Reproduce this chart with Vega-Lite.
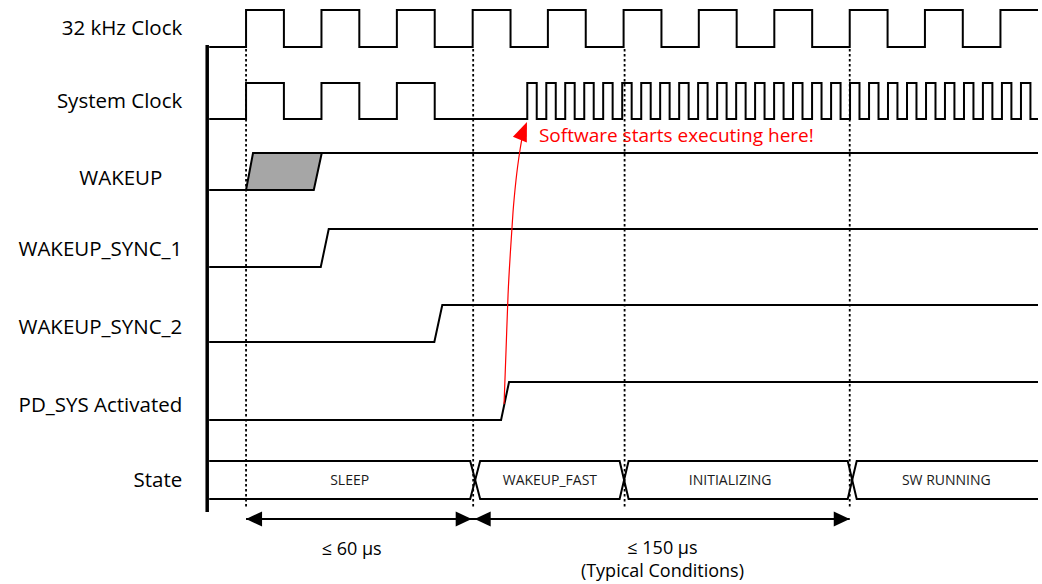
{
  "$schema": "https://vega.github.io/schema/vega-lite/v6.json",
  "width": 1042,
  "height": 584,
  "padding": 0,
  "autosize": {"type": "fit", "contains": "padding"},
  "background": "white",
  "config": {"view": {"stroke": null}},
  "datasets": {
    "w": [
      {"s":"c32","x":210,"y":47},{"s":"c32","x":247,"y":47},{"s":"c32","x":247,"y":10},{"s":"c32","x":285,"y":10},{"s":"c32","x":285,"y":47},
      {"s":"c32","x":322.7,"y":47},{"s":"c32","x":322.7,"y":10},{"s":"c32","x":360.7,"y":10},{"s":"c32","x":360.7,"y":47},
      {"s":"c32","x":398.4,"y":47},{"s":"c32","x":398.4,"y":10},{"s":"c32","x":436.4,"y":10},{"s":"c32","x":436.4,"y":47},
      {"s":"c32","x":474.5,"y":47},{"s":"c32","x":474.5,"y":10},{"s":"c32","x":512.5,"y":10},{"s":"c32","x":512.5,"y":47},
      {"s":"c32","x":550,"y":47},{"s":"c32","x":550,"y":10},{"s":"c32","x":588,"y":10},{"s":"c32","x":588,"y":47},
      {"s":"c32","x":626,"y":47},{"s":"c32","x":626,"y":10},{"s":"c32","x":664,"y":10},{"s":"c32","x":664,"y":47},
      {"s":"c32","x":701.5,"y":47},{"s":"c32","x":701.5,"y":10},{"s":"c32","x":739.5,"y":10},{"s":"c32","x":739.5,"y":47},
      {"s":"c32","x":777.3,"y":47},{"s":"c32","x":777.3,"y":10},{"s":"c32","x":815.3,"y":10},{"s":"c32","x":815.3,"y":47},
      {"s":"c32","x":853,"y":47},{"s":"c32","x":853,"y":10},{"s":"c32","x":891,"y":10},{"s":"c32","x":891,"y":47},
      {"s":"c32","x":928.5,"y":47},{"s":"c32","x":928.5,"y":10},{"s":"c32","x":966.5,"y":10},{"s":"c32","x":966.5,"y":47},
      {"s":"c32","x":1004.3,"y":47},{"s":"c32","x":1004.3,"y":10},{"s":"c32","x":1042,"y":10},

      {"s":"sys","x":210,"y":119},{"s":"sys","x":247,"y":119},{"s":"sys","x":247,"y":83},{"s":"sys","x":285,"y":83},{"s":"sys","x":285,"y":119},
      {"s":"sys","x":322.7,"y":119},{"s":"sys","x":322.7,"y":83},{"s":"sys","x":360.7,"y":83},{"s":"sys","x":360.7,"y":119},
      {"s":"sys","x":398.4,"y":119},{"s":"sys","x":398.4,"y":83},{"s":"sys","x":436.4,"y":83},{"s":"sys","x":436.4,"y":119},
      {"s":"sys","x":529.3,"y":119},{"s":"sys","x":529.3,"y":83},{"s":"sys","x":538.8,"y":83},{"s":"sys","x":538.8,"y":119},
      {"s":"sys","x":548.4,"y":119},{"s":"sys","x":548.4,"y":83},{"s":"sys","x":557.9,"y":83},{"s":"sys","x":557.9,"y":119},
      {"s":"sys","x":567.4,"y":119},{"s":"sys","x":567.4,"y":83},{"s":"sys","x":576.9,"y":83},{"s":"sys","x":576.9,"y":119},
      {"s":"sys","x":586.5,"y":119},{"s":"sys","x":586.5,"y":83},{"s":"sys","x":596.0,"y":83},{"s":"sys","x":596.0,"y":119},
      {"s":"sys","x":605.5,"y":119},{"s":"sys","x":605.5,"y":83},{"s":"sys","x":615.0,"y":83},{"s":"sys","x":615.0,"y":119},
      {"s":"sys","x":624.6,"y":119},{"s":"sys","x":624.6,"y":83},{"s":"sys","x":634.1,"y":83},{"s":"sys","x":634.1,"y":119},
      {"s":"sys","x":643.7,"y":119},{"s":"sys","x":643.7,"y":83},{"s":"sys","x":653.2,"y":83},{"s":"sys","x":653.2,"y":119},
      {"s":"sys","x":662.7,"y":119},{"s":"sys","x":662.7,"y":83},{"s":"sys","x":672.2,"y":83},{"s":"sys","x":672.2,"y":119},
      {"s":"sys","x":681.8,"y":119},{"s":"sys","x":681.8,"y":83},{"s":"sys","x":691.3,"y":83},{"s":"sys","x":691.3,"y":119},
      {"s":"sys","x":700.8,"y":119},{"s":"sys","x":700.8,"y":83},{"s":"sys","x":710.3,"y":83},{"s":"sys","x":710.3,"y":119},
      {"s":"sys","x":719.9,"y":119},{"s":"sys","x":719.9,"y":83},{"s":"sys","x":729.4,"y":83},{"s":"sys","x":729.4,"y":119},
      {"s":"sys","x":739.0,"y":119},{"s":"sys","x":739.0,"y":83},{"s":"sys","x":748.5,"y":83},{"s":"sys","x":748.5,"y":119},
      {"s":"sys","x":758.0,"y":119},{"s":"sys","x":758.0,"y":83},{"s":"sys","x":767.5,"y":83},{"s":"sys","x":767.5,"y":119},
      {"s":"sys","x":777.1,"y":119},{"s":"sys","x":777.1,"y":83},{"s":"sys","x":786.6,"y":83},{"s":"sys","x":786.6,"y":119},
      {"s":"sys","x":796.1,"y":119},{"s":"sys","x":796.1,"y":83},{"s":"sys","x":805.6,"y":83},{"s":"sys","x":805.6,"y":119},
      {"s":"sys","x":815.2,"y":119},{"s":"sys","x":815.2,"y":83},{"s":"sys","x":824.7,"y":83},{"s":"sys","x":824.7,"y":119},
      {"s":"sys","x":834.3,"y":119},{"s":"sys","x":834.3,"y":83},{"s":"sys","x":843.8,"y":83},{"s":"sys","x":843.8,"y":119},
      {"s":"sys","x":853.3,"y":119},{"s":"sys","x":853.3,"y":83},{"s":"sys","x":862.8,"y":83},{"s":"sys","x":862.8,"y":119},
      {"s":"sys","x":872.4,"y":119},{"s":"sys","x":872.4,"y":83},{"s":"sys","x":881.9,"y":83},{"s":"sys","x":881.9,"y":119},
      {"s":"sys","x":891.4,"y":119},{"s":"sys","x":891.4,"y":83},{"s":"sys","x":900.9,"y":83},{"s":"sys","x":900.9,"y":119},
      {"s":"sys","x":910.5,"y":119},{"s":"sys","x":910.5,"y":83},{"s":"sys","x":920.0,"y":83},{"s":"sys","x":920.0,"y":119},
      {"s":"sys","x":929.6,"y":119},{"s":"sys","x":929.6,"y":83},{"s":"sys","x":939.1,"y":83},{"s":"sys","x":939.1,"y":119},
      {"s":"sys","x":948.6,"y":119},{"s":"sys","x":948.6,"y":83},{"s":"sys","x":958.1,"y":83},{"s":"sys","x":958.1,"y":119},
      {"s":"sys","x":967.7,"y":119},{"s":"sys","x":967.7,"y":83},{"s":"sys","x":977.2,"y":83},{"s":"sys","x":977.2,"y":119},
      {"s":"sys","x":986.7,"y":119},{"s":"sys","x":986.7,"y":83},{"s":"sys","x":996.2,"y":83},{"s":"sys","x":996.2,"y":119},
      {"s":"sys","x":1005.8,"y":119},{"s":"sys","x":1005.8,"y":83},{"s":"sys","x":1015.3,"y":83},{"s":"sys","x":1015.3,"y":119},
      {"s":"sys","x":1024.9,"y":119},{"s":"sys","x":1024.9,"y":83},{"s":"sys","x":1034.4,"y":83},{"s":"sys","x":1034.4,"y":119},
      {"s":"sys","x":1042,"y":119},

      {"s":"wk","x":210,"y":190},{"s":"wk","x":247,"y":190},{"s":"wk","x":254,"y":153},{"s":"wk","x":1042,"y":153},
      {"s":"wk2","x":247,"y":190},{"s":"wk2","x":315,"y":190},{"s":"wk2","x":323,"y":153},
      {"s":"s1","x":210,"y":267},{"s":"s1","x":322,"y":267},{"s":"s1","x":330,"y":229},{"s":"s1","x":1042,"y":229},
      {"s":"s2","x":210,"y":342},{"s":"s2","x":436,"y":342},{"s":"s2","x":444,"y":305},{"s":"s2","x":1042,"y":305},
      {"s":"pd","x":210,"y":420},{"s":"pd","x":503,"y":420},{"s":"pd","x":511,"y":382},{"s":"pd","x":1042,"y":382},
      {"s":"busA","x":210,"y":461},{"s":"busA","x":472,"y":461},{"s":"busA","x":482,"y":499},{"s":"busA","x":622,"y":499},{"s":"busA","x":631,"y":461},{"s":"busA","x":851,"y":461},{"s":"busA","x":860,"y":499},{"s":"busA","x":1042,"y":499},
      {"s":"busB","x":210,"y":499},{"s":"busB","x":472,"y":499},{"s":"busB","x":482,"y":461},{"s":"busB","x":622,"y":461},{"s":"busB","x":631,"y":499},{"s":"busB","x":851,"y":499},{"s":"busB","x":860,"y":461},{"s":"busB","x":1042,"y":461},
      {"s":"dim","x":247,"y":519},{"s":"dim","x":853,"y":519}
    ],
    "fill": [
      {"x":247,"y":190,"y2":190},{"x":254,"y":153,"y2":190},{"x":315,"y":153,"y2":190},{"x":323,"y":153,"y2":153}
    ],
    "red": [
      {"x":506,"y":404},{"x":508,"y":350},{"x":510,"y":295},{"x":512.5,"y":250},{"x":515,"y":212},{"x":518,"y":180},{"x":522,"y":150},{"x":526,"y":128}
    ],
    "dots": [
      {"x":247,"y":49,"y2":509},{"x":475,"y":49,"y2":509},{"x":627,"y":49,"y2":509},{"x":853,"y":49,"y2":509}
    ],
    "labels": [
      {"t":"32 kHz Clock","x":183,"y":29},
      {"t":"System Clock","x":183,"y":102},
      {"t":"WAKEUP","x":163,"y":179},
      {"t":"WAKEUP_SYNC_1","x":183,"y":250},
      {"t":"WAKEUP_SYNC_2","x":183,"y":328},
      {"t":"PD_SYS Activated","x":183,"y":406},
      {"t":"State","x":183,"y":481}
    ],
    "states": [
      {"t":"SLEEP","x":351,"y":481},
      {"t":"WAKEUP_FAST","x":552,"y":481},
      {"t":"INITIALIZING","x":733,"y":481},
      {"t":"SW RUNNING","x":950,"y":481}
    ],
    "dims": [
      {"t":"≤ 60 µs","x":353,"y":550},
      {"t":"≤ 150 µs","x":665,"y":549},
      {"t":"(Typical Conditions)","x":665,"y":572}
    ],
    "lheads": [{"x":247,"y":519},{"x":476.5,"y":519}],
    "rheads": [{"x":473.5,"y":519},{"x":853,"y":519}],
    "axis": [{"x":208,"y":45,"y2":512}],
    "note": [{"t":"Software starts executing here!","x":541,"y":136}],
    "rhead": [{"x":529,"y":122}]
  },
  "encoding": {
    "x": {"field": "x", "type": "quantitative", "scale": {"domain": [0, 1042], "nice": false, "zero": false}, "axis": null},
    "y": {"field": "y", "type": "quantitative", "scale": {"domain": [0, 584], "nice": false, "zero": false, "reverse": true}, "axis": null}
  },
  "layer": [
    {
      "data": {"name": "fill"},
      "mark": {"type": "area", "color": "#a6a6a6", "opacity": 1},
      "encoding": {"y2": {"field": "y2"}}
    },
    {
      "data": {"name": "dots"},
      "mark": {"type": "rule", "color": "black", "strokeWidth": 1.8, "strokeDash": [2.5, 2.5]},
      "encoding": {"y2": {"field": "y2"}}
    },
    {
      "data": {"name": "axis"},
      "mark": {"type": "rule", "color": "black", "strokeWidth": 3.5},
      "encoding": {"y2": {"field": "y2"}}
    },
    {
      "data": {"name": "w"},
      "mark": {"type": "line", "color": "black", "strokeWidth": 2, "strokeJoin": "miter"},
      "encoding": {"detail": {"field": "s"}, "order": {"value": null}}
    },
    {
      "data": {"name": "red"},
      "mark": {"type": "line", "color": "#ff0000", "strokeWidth": 1.2, "interpolate": "monotone"},
      "encoding": {"order": {"value": null}}
    },
    {
      "data": {"name": "rhead"},
      "mark": {"type": "point", "shape": "M0,0 L-0.75,1.9 L0.75,1.9 Z", "size": 400, "angle": 22, "filled": true, "color": "#ff0000", "opacity": 1}
    },
    {
      "data": {"name": "lheads"},
      "mark": {"type": "point", "shape": "M0,0 L2,-0.95 L2,0.95 Z", "size": 256, "filled": true, "color": "black", "opacity": 1}
    },
    {
      "data": {"name": "rheads"},
      "mark": {"type": "point", "shape": "M0,0 L-2,-0.95 L-2,0.95 Z", "size": 256, "filled": true, "color": "black", "opacity": 1}
    },
    {
      "data": {"name": "labels"},
      "mark": {"type": "text", "align": "right", "baseline": "middle", "font": "Open Sans", "fontSize": 20.5, "color": "black"},
      "encoding": {"text": {"field": "t"}}
    },
    {
      "data": {"name": "states"},
      "mark": {"type": "text", "align": "center", "baseline": "middle", "font": "Open Sans", "fontSize": 14, "color": "#1a1a1a"},
      "encoding": {"text": {"field": "t"}}
    },
    {
      "data": {"name": "dims"},
      "mark": {"type": "text", "align": "center", "baseline": "middle", "font": "Open Sans", "fontSize": 18, "color": "black"},
      "encoding": {"text": {"field": "t"}}
    },
    {
      "data": {"name": "note"},
      "mark": {"type": "text", "align": "left", "baseline": "middle", "font": "Open Sans", "fontSize": 19, "color": "#ff0000"},
      "encoding": {"text": {"field": "t"}}
    }
  ]
}
